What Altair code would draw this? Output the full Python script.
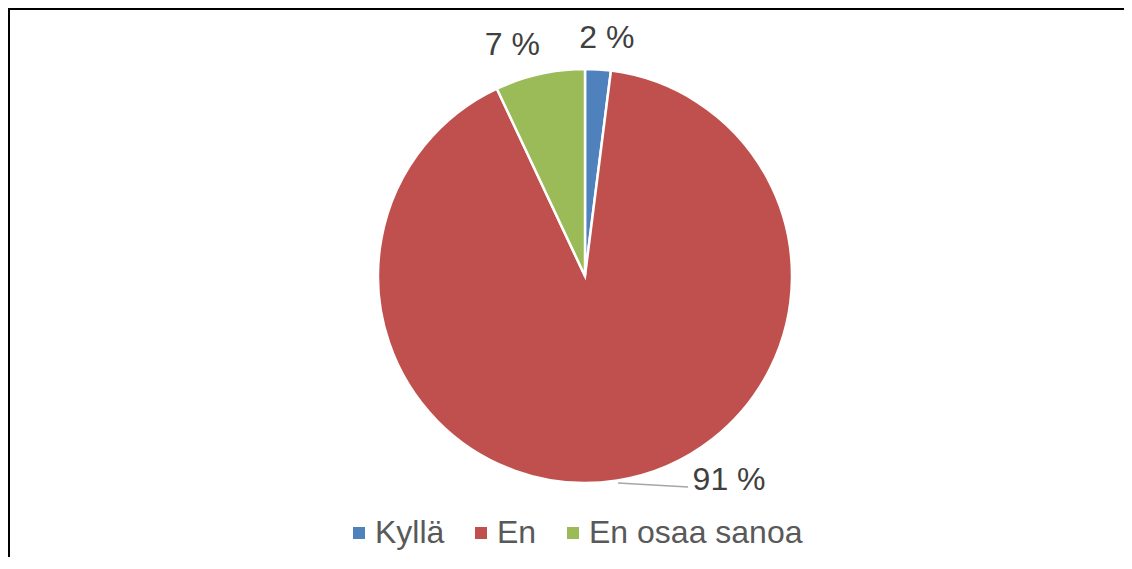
import altair as alt
import pandas as pd

categories = ["Kyllä", "En", "En osaa sanoa"]
values = [2, 91, 7]
labels = ["2 %", "91 %", "7 %"]
colors = ["#4F81BD", "#C0504D", "#9BBB59"]

df = pd.DataFrame({
    "category": categories,
    "value": values,
    "label": labels,
    "order": list(range(len(categories))),
})

W, H = 1116, 549
CX, CY = 577, 268
R = 207
FONT = "Arial, Liberation Sans, sans-serif"
FS = 32

base = alt.Chart(df)

pie = base.mark_arc(outerRadius=R, stroke="white", strokeWidth=2.5).encode(
    theta=alt.Theta("value:Q", stack=True),
    color=alt.Color(
        "category:N",
        scale=alt.Scale(domain=categories, range=colors),
        sort=categories,
        legend=alt.Legend(
            title=None,
            orient="none",
            legendX=335,
            legendY=509,
            direction="horizontal",
            symbolType="square",
            symbolSize=144,
            symbolStrokeWidth=0,
            labelFont=FONT,
            labelFontSize=FS,
            labelColor="#595959",
            labelOffset=0,
            columnPadding=20,
            labelLimit=400,
        ),
    ),
    order=alt.Order("order:Q"),
    x=alt.value(CX),
    y=alt.value(CY),
)

mid = base.transform_window(
    cum="sum(value)", sort=[alt.SortField("order")], frame=[None, 0]
).transform_calculate(mid="datum.cum - datum.value / 2")


def label_layer(cat, dx, dy, radius=237):
    return mid.transform_filter(alt.datum.category == cat).mark_text(
        radius=radius, dx=dx, dy=dy, fontSize=FS, font=FONT, color="#404040",
        align="center", baseline="middle",
    ).encode(
        theta=alt.Theta("mid:Q", scale=alt.Scale(domain=[0, 100]), stack=None),
        text="label:N",
        x=alt.value(CX),
        y=alt.value(CY),
    )


lbl2 = label_layer("Kyllä", 7, -1)
lbl7 = label_layer("En osaa sanoa", -21, 0)
lbl91 = label_layer("En", 107, -30)

leader = base.mark_rule(color="#A6A6A6", strokeWidth=1.5).encode(
    x=alt.value(610), y=alt.value(475), x2=alt.value(680), y2=alt.value(479)
).transform_filter(alt.datum.category == "En")

frame_top = base.mark_rule(color="black", strokeWidth=2).encode(
    x=alt.value(0), x2=alt.value(W), y=alt.value(1)
).transform_filter(alt.datum.category == "En")
frame_left = base.mark_rule(color="black", strokeWidth=2).encode(
    y=alt.value(0), y2=alt.value(H), x=alt.value(1)
).transform_filter(alt.datum.category == "En")

chart = alt.layer(pie, lbl2, lbl7, lbl91, leader, frame_top, frame_left).properties(
    width=W, height=H, autosize=alt.AutoSizeParams(type="none"), padding=0
).configure_view(stroke=None).configure(background="white")

chart.save("out.html", embed_options={"renderer": "svg", "actions": False})
